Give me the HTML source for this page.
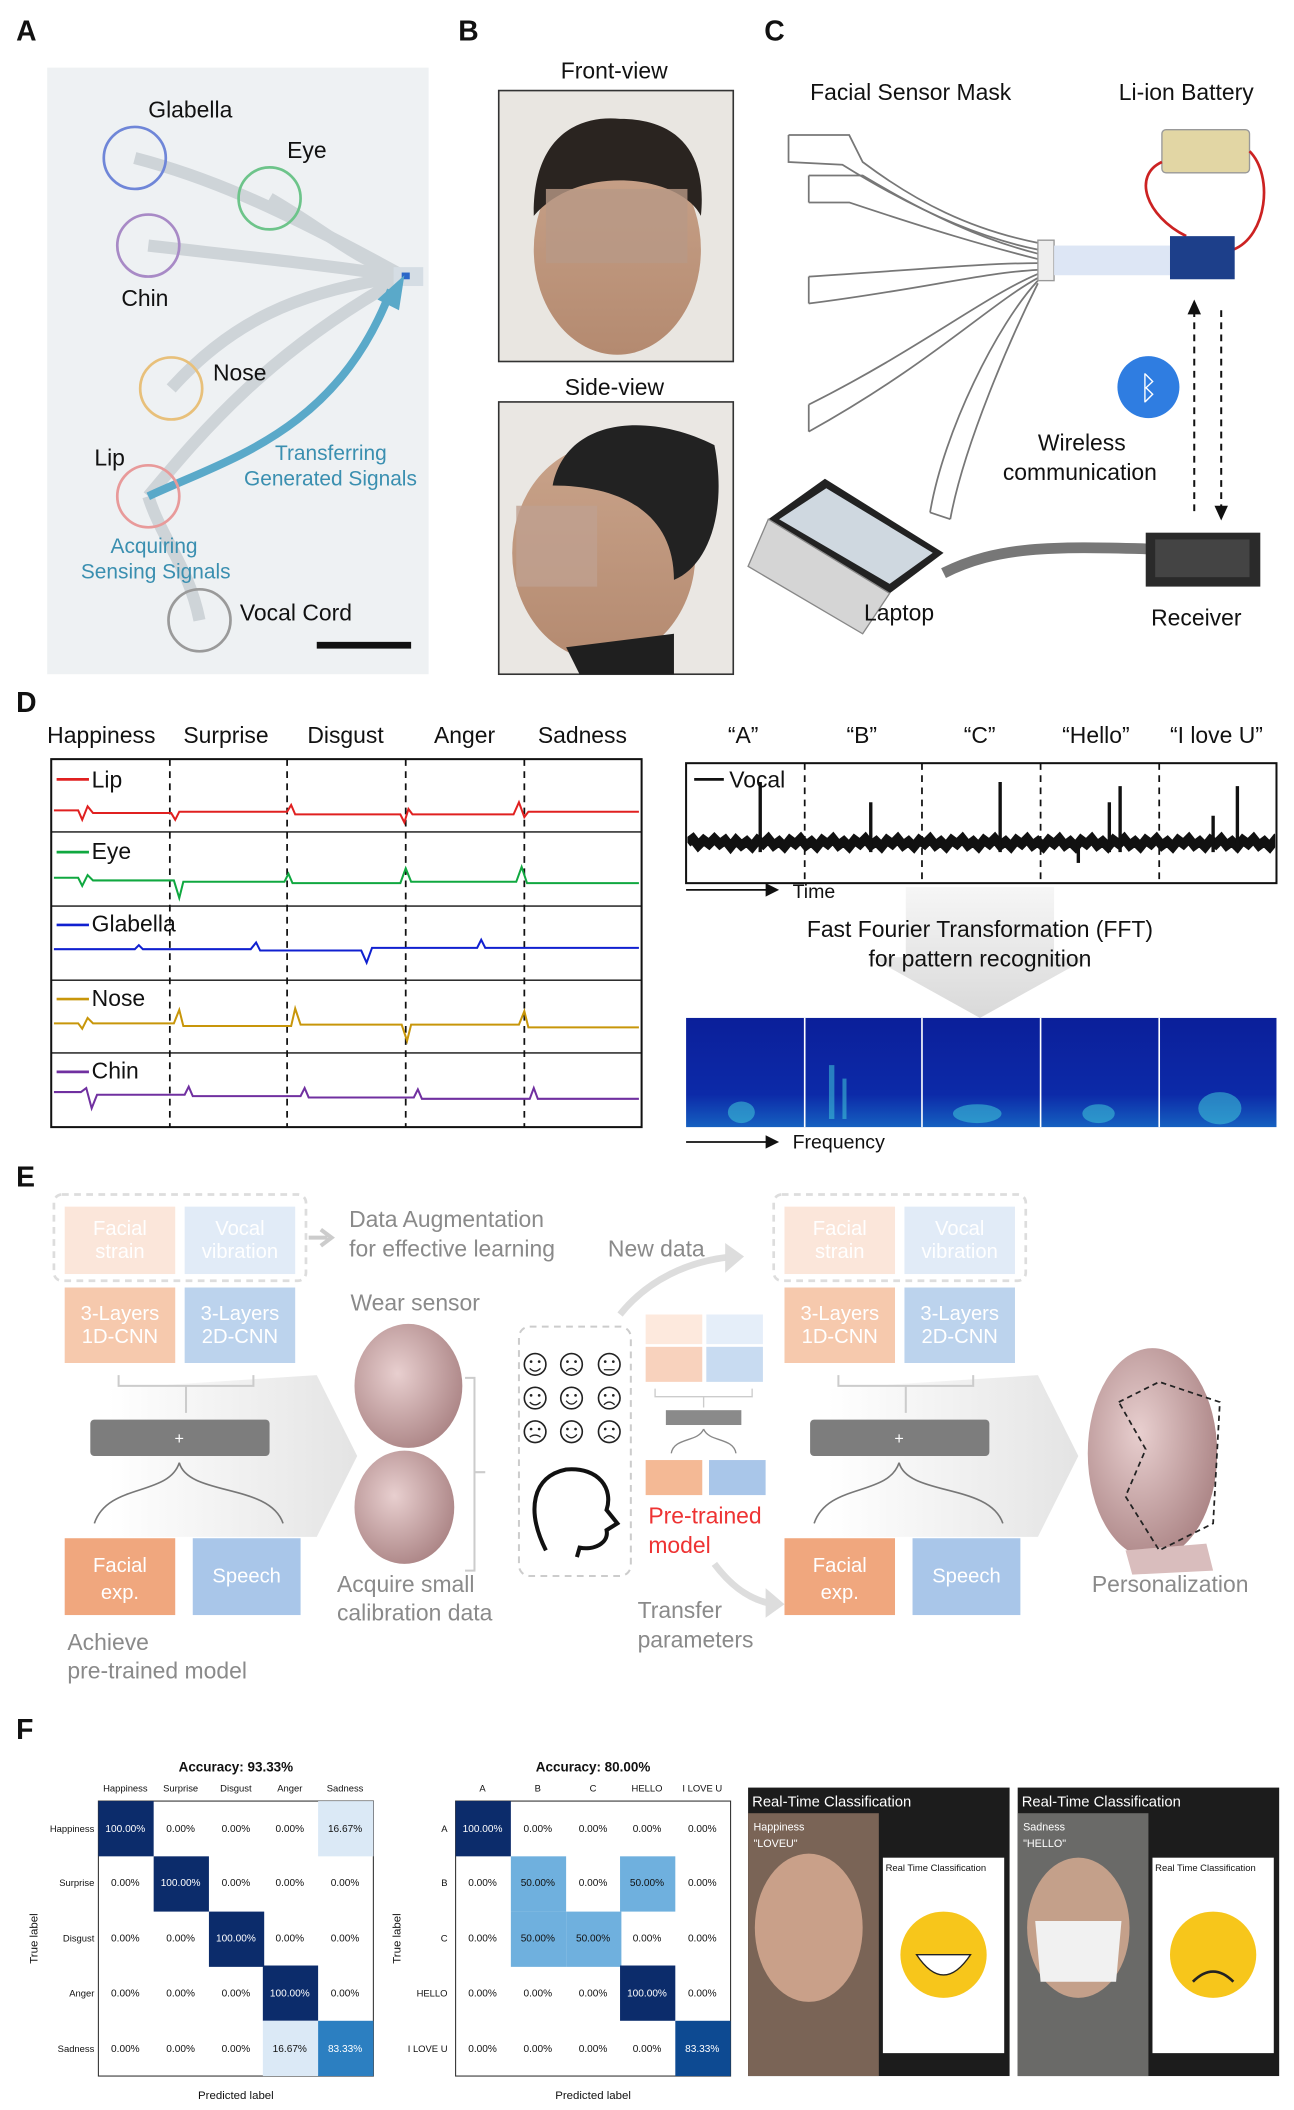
<!DOCTYPE html>
<html><head><meta charset="utf-8"><style>
html,body{margin:0;padding:0;background:#fff}
svg{display:block}
text{font-family:"Liberation Sans",Arial,sans-serif}
</style></head><body>
<svg width="1294" height="2110" viewBox="0 0 960 1565" xmlns="http://www.w3.org/2000/svg">
<defs>
<linearGradient id="skin" x1="0" y1="0" x2="0" y2="1"><stop offset="0" stop-color="#c9a38a"/><stop offset="1" stop-color="#b48a70"/></linearGradient>
<radialGradient id="head" cx="0.4" cy="0.4" r="0.7"><stop offset="0" stop-color="#e8cfcf"/><stop offset="1" stop-color="#a77f80"/></radialGradient>
<linearGradient id="gar" x1="0" y1="0" x2="1" y2="0"><stop offset="0" stop-color="#fff"/><stop offset="1" stop-color="#d8d8d8"/></linearGradient>
<linearGradient id="gdown" x1="0" y1="0" x2="0" y2="1"><stop offset="0" stop-color="#f4f4f4"/><stop offset="1" stop-color="#cfcfcf"/></linearGradient>
<linearGradient id="spec" x1="0" y1="0" x2="0" y2="1"><stop offset="0" stop-color="#0b1f9a"/><stop offset="0.7" stop-color="#0c2aa8"/><stop offset="1" stop-color="#1560c0"/></linearGradient>
<clipPath id="vc"><rect x="510" y="567" width="436" height="87"/></clipPath>
<g id="face"><circle r="8" fill="none" stroke="#222" stroke-width="1.2"/><circle cx="-3" cy="-2" r="1" fill="#222"/><circle cx="3" cy="-2" r="1" fill="#222"/></g>
</defs>
<g font-size="17" fill="#111">
<!-- Panel A -->
<text x="12" y="30" font-weight="bold" font-size="21">A</text>
<rect x="35" y="50" width="283" height="450" fill="#eef1f3"/>
<g fill="none" stroke="#c7cdd2" stroke-width="9" opacity="0.8">
<path d="M100,117 C150,130 200,150 300,205"/><path d="M200,147 C240,170 260,190 300,205"/>
<path d="M110,182 C180,190 230,195 300,205"/><path d="M127,288 C170,240 220,215 300,205"/>
<path d="M110,368 C150,320 200,260 300,205"/><path d="M148,460 C140,420 120,400 110,368"/>
</g>
<rect x="292" y="198" width="22" height="14" fill="#d5dde4"/><rect x="298" y="202" width="6" height="5" fill="#2a66c8"/>
<path d="M110,368 C170,340 250,320 290,215" fill="none" stroke="#5aa9c9" stroke-width="6"/>
<path d="M280,222 L300,204 L296,230 Z" fill="#5aa9c9"/>
<g fill="none" stroke-width="2">
<circle cx="100" cy="117" r="23" stroke="#6f86d8"/><circle cx="200" cy="147" r="23" stroke="#6dc48a"/>
<circle cx="110" cy="182" r="23" stroke="#a88ac6"/><circle cx="127" cy="288" r="23" stroke="#e8c07a"/>
<circle cx="110" cy="368" r="23" stroke="#e89a9a"/><circle cx="148" cy="460" r="23" stroke="#9a9a9a"/>
</g>
<text x="110" y="87">Glabella</text><text x="213" y="117">Eye</text><text x="90" y="227">Chin</text>
<text x="158" y="282">Nose</text><text x="70" y="345">Lip</text><text x="178" y="460">Vocal Cord</text>
<g fill="#3a8fb0" font-size="15.5"><text x="204" y="341">Transferring</text><text x="181" y="360">Generated Signals</text>
<text x="82" y="410">Acquiring</text><text x="60" y="429">Sensing Signals</text></g>
<rect x="235" y="476" width="70" height="5" fill="#111"/>

<!-- Panel B -->
<text x="340" y="30" font-weight="bold" font-size="21">B</text>
<text x="416" y="58">Front-view</text><text x="419" y="293">Side-view</text>
<rect x="370" y="67" width="174" height="201" fill="#e9e6e1" stroke="#333" stroke-width="1.2"/>
<ellipse cx="458" cy="185" rx="62" ry="78" fill="url(#skin)"/><path d="M396,160 C395,100 430,85 460,88 C500,88 525,110 520,160 C505,130 430,120 396,160 Z" fill="#2a2420"/>
<rect x="405" y="140" width="105" height="55" fill="#b89886" opacity="0.8"/>
<rect x="370" y="298" width="174" height="202" fill="#eae7e3" stroke="#333" stroke-width="1.2"/>
<ellipse cx="448" cy="410" rx="68" ry="80" fill="url(#skin)"/><path d="M410,360 C420,310 480,305 530,330 C540,380 525,420 500,430 C500,380 460,360 410,360 Z" fill="#222"/>
<rect x="383" y="375" width="60" height="60" fill="#bfa090" opacity="0.8"/>
<path d="M420,480 L430,500 L500,500 L500,470 Z" fill="#1f1f1f"/>

<!-- Panel C -->
<text x="567" y="30" font-weight="bold" font-size="21">C</text>
<text x="601" y="74">Facial Sensor Mask</text><text x="830" y="74">Li-ion Battery</text>
<g fill="none" stroke="#777" stroke-width="1.3">
<path d="M585,100 L630,100 L640,120 C680,150 720,170 770,180 M585,100 L585,120 L625,122 C670,150 720,175 770,185"/>
<path d="M600,130 L640,130 C690,160 730,178 770,188 M600,150 L630,150 C690,170 730,182 770,192"/>
<path d="M600,205 C680,200 730,195 770,195 M600,225 C680,215 730,202 770,200"/>
<path d="M600,300 C680,260 730,220 770,203 M600,320 C690,270 735,225 770,206"/>
<path d="M690,380 C700,320 740,240 770,208 M705,385 C715,330 750,250 770,210"/>
<path d="M600,130 L600,150 M600,205 L600,225 M600,300 L600,320 M690,380 L705,385"/>
</g>
<rect x="770" y="178" width="12" height="30" fill="#eee" stroke="#999"/>
<rect x="782" y="182" width="88" height="22" fill="#dde6f5"/>
<rect x="862" y="96" width="65" height="32" rx="3" fill="#e2d6a4" stroke="#999"/>
<path d="M862,120 C840,130 850,160 880,175 M927,112 C945,130 940,175 915,185" stroke="#c22" stroke-width="2" fill="none"/>
<rect x="868" y="175" width="48" height="32" fill="#1d3f8a"/>
<circle cx="852" cy="287" r="23" fill="#2f7de1"/><text x="852" y="296" text-anchor="middle" fill="#fff" font-size="24">ᛒ</text>
<g stroke="#111" stroke-width="1.5" stroke-dasharray="5,4"><line x1="886" y1="230" x2="886" y2="383"/><line x1="906" y1="230" x2="906" y2="378"/></g>
<path d="M881,233 L886,222 L891,233 Z M901,375 L906,386 L911,375 Z" fill="#111"/>
<text x="770" y="334">Wireless</text><text x="744" y="356">communication</text>
<path d="M700,425 C740,405 780,405 852,407" stroke="#777" stroke-width="8" fill="none"/>
<path d="M570,385 L612,355 L700,410 L660,440 Z" fill="#222"/><path d="M578,385 L613,362 L692,410 L660,433 Z" fill="#cfd8e0"/>
<path d="M570,385 L660,440 L640,470 L555,420 Z" fill="#d5d5d5" stroke="#888"/>
<text x="641" y="460">Laptop</text>
<rect x="850" y="395" width="85" height="40" fill="#2a2a2a"/><rect x="857" y="400" width="70" height="28" fill="#444"/>
<text x="854" y="464">Receiver</text>

<!-- Panel D -->
<text x="12" y="528" font-weight="bold" font-size="21">D</text>
<text x="35" y="551">Happiness</text><text x="136" y="551">Surprise</text><text x="228" y="551">Disgust</text><text x="322" y="551">Anger</text><text x="399" y="551">Sadness</text>
<rect x="38" y="563" width="438" height="273" fill="none" stroke="#111" stroke-width="1.5"/>
<g stroke="#111" stroke-width="1"><line x1="38" y1="617" x2="476" y2="617"/><line x1="38" y1="672" x2="476" y2="672"/><line x1="38" y1="727" x2="476" y2="727"/><line x1="38" y1="781" x2="476" y2="781"/></g>
<g stroke="#111" stroke-width="1.3" stroke-dasharray="5,4"><line x1="126" y1="563" x2="126" y2="836"/><line x1="213" y1="563" x2="213" y2="836"/><line x1="301" y1="563" x2="301" y2="836"/><line x1="389" y1="563" x2="389" y2="836"/></g>
<g fill="none" stroke-width="1.5">
<path stroke="#e02020" d="M40,601 h18 l3,7 l4,-10 l4,5 h58 l3,5 l3,-6 h80 l3,-5 l3,7 h78 l3,6 l3,-10 l3,4 h75 l4,-9 l4,11 l3,-4 H474"/>
<path stroke="#10a840" d="M40,651 h18 l3,6 l4,-8 l4,4 h60 l4,13 l3,-12 h75 l3,-6 l3,7 h80 l4,-11 l4,10 h78 l4,-11 l4,12 H474"/>
<path stroke="#1020d0" d="M40,704 h60 l3,-3 l3,3 h80 l4,-5 l3,6 h75 l4,9 l4,-11 h78 l3,-6 l3,6 H474"/>
<path stroke="#c8960a" d="M40,759 h18 l3,4 l4,-8 l4,4 h60 l4,-10 l3,12 h80 l3,-13 l4,12 h75 l4,12 l3,-12 h80 l4,-10 l3,12 H474"/>
<path stroke="#7030a0" d="M40,810 h20 l4,-3 l4,15 l4,-10 h65 l3,-6 l3,7 h80 l3,-6 l3,7 h78 l3,-6 l3,7 h80 l3,-8 l3,8 H474"/>
</g>
<text x="68" y="584" fill="#111">Lip</text><line x1="42" y1="578" x2="66" y2="578" stroke="#e02020" stroke-width="2"/>
<text x="68" y="637">Eye</text><line x1="42" y1="632" x2="66" y2="632" stroke="#10a840" stroke-width="2"/>
<text x="68" y="691">Glabella</text><line x1="42" y1="686" x2="66" y2="686" stroke="#1020d0" stroke-width="2"/>
<text x="68" y="746">Nose</text><line x1="42" y1="741" x2="66" y2="741" stroke="#c8960a" stroke-width="2"/>
<text x="68" y="800">Chin</text><line x1="42" y1="795" x2="66" y2="795" stroke="#7030a0" stroke-width="2"/>
<text x="540" y="551">“A”</text><text x="628" y="551">“B”</text><text x="715" y="551">“C”</text><text x="788" y="551">“Hello”</text><text x="868" y="551">“I love U”</text>
<rect x="509" y="566" width="438" height="89" fill="none" stroke="#111" stroke-width="1.5"/>
<g stroke="#111" stroke-width="1.3" stroke-dasharray="5,4"><line x1="597" y1="566" x2="597" y2="655"/><line x1="684" y1="566" x2="684" y2="655"/><line x1="772" y1="566" x2="772" y2="655"/><line x1="860" y1="566" x2="860" y2="655"/></g>
<g clip-path="url(#vc)">
<path d="M510,625 l4,-3 l4,5 l4,-4 l4,3 l4,-4 l4,4 l4,-3 l4,5 l4,-5 l4,4 l4,-3 l4,4 l4,-5 l4,3 l4,-4 l4,5 l4,-3 l4,4 l4,-5 l4,3 l4,-4 l4,5 l4,-3 l4,4 l4,-5 l4,3 l4,-4 l4,5 l4,-3 l4,4 l4,-5 l4,3 l4,-4 l4,5 l4,-3 l4,4 l4,-5 l4,3 l4,-4 l4,5 l4,-3 l4,4 l4,-5 l4,3 l4,-4 l4,5 l4,-3 l4,4 l4,-5 l4,3 l4,-4 l4,5 l4,-3 l4,4 l4,-5 l4,3 l4,-4 l4,5 l4,-3 l4,4 l4,-5 l4,3 l4,-4 l4,5 l4,-3 l4,4 l4,-5 l4,3 l4,-4 l4,5 l4,-3 l4,4 l4,-5 l4,3 l4,-4 l4,5 l4,-3 l4,4 l4,-5 l4,3 l4,-4 l4,5 l4,-3 l4,4 l4,-5 l4,3 l4,-4 l4,5 l4,-3 l4,4 l4,-5 l4,3 l4,-4 l4,5 l4,-3 l4,4 l4,-5 l4,3 l4,-4 l4,5 l4,-3 l4,4 l4,-5 l4,3 l4,-4 l4,5 l4,-3 l4,4 l4,-5 l4,3 l4,-4 l4,5 l4,-3 l4,4 l4,-5 l4,3 l4,-4" fill="none" stroke="#111" stroke-width="7"/>
</g>
<g stroke="#111" stroke-width="2.5"><line x1="564" y1="580" x2="564" y2="632"/><line x1="646" y1="595" x2="646" y2="632"/><line x1="742" y1="580" x2="742" y2="632"/><line x1="823" y1="595" x2="823" y2="632"/><line x1="831" y1="583" x2="831" y2="632"/><line x1="900" y1="605" x2="900" y2="632"/><line x1="918" y1="583" x2="918" y2="632"/><line x1="800" y1="625" x2="800" y2="640"/></g>
<line x1="515" y1="578" x2="537" y2="578" stroke="#111" stroke-width="2"/><text x="541" y="584">Vocal</text>
<line x1="509" y1="660" x2="570" y2="660" stroke="#111" stroke-width="1.3"/><path d="M568,655 L578,660 L568,665 Z" fill="#111"/>
<text x="588" y="666" font-size="14.5">Time</text>
<path d="M672,658 L782,658 L782,710 L808,710 L727,755 L646,710 L672,710 Z" fill="url(#gdown)" opacity="0.8"/>
<text x="727" y="695" text-anchor="middle">Fast Fourier Transformation (FFT)</text>
<text x="727" y="717" text-anchor="middle">for pattern recognition</text>
<rect x="509" y="755" width="438" height="81" fill="url(#spec)"/>
<g fill="#40c8d8" opacity="0.55"><ellipse cx="550" cy="825" rx="10" ry="8"/><rect x="615" y="790" width="4" height="40"/><rect x="625" y="800" width="3" height="30"/><ellipse cx="725" cy="826" rx="18" ry="7"/><ellipse cx="815" cy="826" rx="12" ry="7"/><ellipse cx="905" cy="822" rx="16" ry="12"/></g>
<g stroke="#fff" stroke-width="1.2"><line x1="597" y1="755" x2="597" y2="836"/><line x1="684" y1="755" x2="684" y2="836"/><line x1="772" y1="755" x2="772" y2="836"/><line x1="860" y1="755" x2="860" y2="836"/></g>
<line x1="509" y1="847" x2="570" y2="847" stroke="#111" stroke-width="1.3"/><path d="M568,842 L578,847 L568,852 Z" fill="#111"/>
<text x="588" y="852" font-size="14.5">Frequency</text>

<!-- Panel E -->
<text x="12" y="880" font-weight="bold" font-size="21">E</text>
<path d="M80,1030 L235,1020 L265,1080 L235,1140 L80,1140 Z" fill="url(#gar)" opacity="0.7"/>
<path d="M614,1030 L770,1020 L800,1080 L770,1140 L614,1140 Z" fill="url(#gar)" opacity="0.7"/>
<g font-size="15" fill="#fff" text-anchor="middle">
<rect x="40" y="886" width="187" height="64" rx="6" fill="none" stroke="#ddd" stroke-width="2" stroke-dasharray="5,4"/>
<rect x="48" y="895" width="82" height="50" fill="#fbe6da"/><rect x="137" y="895" width="82" height="50" fill="#e1ebf7"/>
<text x="89" y="916">Facial</text><text x="89" y="933">strain</text><text x="178" y="916">Vocal</text><text x="178" y="933">vibration</text>
<rect x="48" y="955" width="82" height="56" fill="#f6c9ad"/><rect x="137" y="955" width="82" height="56" fill="#bcd3ed"/>
<text x="89" y="979">3-Layers</text><text x="89" y="996">1D-CNN</text><text x="178" y="979">3-Layers</text><text x="178" y="996">2D-CNN</text>
<rect x="574" y="886" width="187" height="64" rx="6" fill="none" stroke="#ddd" stroke-width="2" stroke-dasharray="5,4"/>
<rect x="582" y="895" width="82" height="50" fill="#fbe6da"/><rect x="671" y="895" width="82" height="50" fill="#e1ebf7"/>
<text x="623" y="916">Facial</text><text x="623" y="933">strain</text><text x="712" y="916">Vocal</text><text x="712" y="933">vibration</text>
<rect x="582" y="955" width="82" height="56" fill="#f6c9ad"/><rect x="671" y="955" width="82" height="56" fill="#bcd3ed"/>
<text x="623" y="979">3-Layers</text><text x="623" y="996">1D-CNN</text><text x="712" y="979">3-Layers</text><text x="712" y="996">2D-CNN</text>
</g>
<g fill="none" stroke="#ccc" stroke-width="1.5"><path d="M88,1020 v8 h100 v-8 M138,1028 v20"/><path d="M622,1020 v8 h100 v-8 M672,1028 v20"/></g>
<rect x="67" y="1053" width="133" height="27" rx="3" fill="#7d7d7d"/><text x="133" y="1071" fill="#fff" font-size="12" text-anchor="middle">+</text>
<rect x="601" y="1053" width="133" height="27" rx="3" fill="#7d7d7d"/><text x="667" y="1071" fill="#fff" font-size="12" text-anchor="middle">+</text>
<g fill="none" stroke="#777" stroke-width="1.2"><path d="M133,1085 C125,1110 80,1100 70,1130 M133,1085 C140,1110 200,1100 210,1130"/><path d="M667,1085 C659,1110 614,1100 604,1130 M667,1085 C674,1110 734,1100 744,1130"/></g>
<g font-size="15" fill="#fff" text-anchor="middle">
<rect x="48" y="1141" width="82" height="57" fill="#f0a77e"/><rect x="143" y="1141" width="80" height="57" fill="#a9c6e9"/>
<text x="89" y="1166">Facial</text><text x="89" y="1186">exp.</text><text x="183" y="1174">Speech</text>
<rect x="582" y="1141" width="82" height="57" fill="#f0a77e"/><rect x="677" y="1141" width="80" height="57" fill="#a9c6e9"/>
<text x="623" y="1166">Facial</text><text x="623" y="1186">exp.</text><text x="717" y="1174">Speech</text>
</g>
<ellipse cx="855" cy="1078" rx="48" ry="78" fill="url(#head)"/><path d="M835,1150 L895,1145 L900,1165 L840,1168 Z" fill="#d9bdbd"/>
<path d="M830,1040 L860,1025 L905,1040 L900,1130 L860,1150 L835,1110 L850,1075 Z" fill="none" stroke="#222" stroke-width="1.3" stroke-dasharray="4,3"/>
<g fill="#8a8a8a" font-size="17">
<text x="259" y="910">Data Augmentation</text><text x="259" y="932">for effective learning</text>
<text x="451" y="932">New data</text><text x="260" y="972">Wear sensor</text>
<text x="250" y="1181">Acquire small</text><text x="250" y="1202">calibration data</text>
<text x="50" y="1224">Achieve</text><text x="50" y="1245">pre-trained model</text>
<text x="473" y="1200">Transfer</text><text x="473" y="1222">parameters</text>
<text x="810" y="1181">Personalization</text>
</g>
<text x="481" y="1130" fill="#e33" font-size="17">Pre-trained</text><text x="481" y="1152" fill="#e33" font-size="17">model</text>
<path d="M229,918 L243,918 M238,912 L246,918 L238,924" stroke="#ccc" stroke-width="3" fill="none"/>
<path d="M460,975 C480,950 510,935 545,932" stroke="#ddd" stroke-width="5" fill="none"/><path d="M538,922 L552,932 L538,944 Z" fill="#ddd"/>
<path d="M530,1160 C545,1180 560,1188 575,1190" stroke="#ddd" stroke-width="5" fill="none"/><path d="M568,1178 L582,1190 L568,1200 Z" fill="#ddd"/>
<ellipse cx="303" cy="1028" rx="40" ry="46" fill="url(#head)"/>
<ellipse cx="300" cy="1118" rx="37" ry="42" fill="url(#head)"/>
<path d="M345,1022 L352,1022 L352,1165 L345,1165 M352,1092 L360,1092" stroke="#ccc" fill="none" stroke-width="1.5"/>
<rect x="385" y="984" width="83" height="185" rx="8" fill="none" stroke="#ccc" stroke-width="1.5" stroke-dasharray="5,4"/>
<use href="#face" x="397" y="1012"/><use href="#face" x="424" y="1012"/><use href="#face" x="452" y="1012"/>
<use href="#face" x="397" y="1037"/><use href="#face" x="424" y="1037"/><use href="#face" x="452" y="1037"/>
<use href="#face" x="397" y="1062"/><use href="#face" x="424" y="1062"/><use href="#face" x="452" y="1062"/>
<g fill="none" stroke="#222" stroke-width="1"><path d="M393,1015 q4,4 8,0 M420,1017 q4,-4 8,0 M448,1016 h8 M393,1040 q4,4 8,0 M420,1039 q4,5 8,0 M448,1042 q4,-4 8,0 M393,1066 q4,-3 8,0 M420,1064 q4,5 8,0 M448,1067 q4,-4 8,0"/></g>
<path d="M405,1150 C390,1120 395,1095 420,1090 C445,1088 455,1105 450,1120 L458,1130 L450,1135 C452,1145 440,1150 430,1148 L428,1155" fill="none" stroke="#111" stroke-width="3"/>
<g><rect x="479" y="975" width="42" height="22" fill="#fde9dd"/><rect x="524" y="975" width="42" height="22" fill="#e5eef9"/>
<rect x="479" y="999" width="42" height="26" fill="#f8d2bd"/><rect x="524" y="999" width="42" height="26" fill="#c8dbf1"/>
<path d="M486,1030 v6 h72 v-6 M522,1036 v8" stroke="#ccc" fill="none"/>
<rect x="494" y="1046" width="56" height="11" fill="#8a8a8a"/>
<path d="M522,1060 C518,1070 500,1066 498,1078 M522,1060 C526,1070 544,1066 546,1078" stroke="#888" fill="none"/>
<rect x="479" y="1083" width="42" height="26" fill="#f4b995"/><rect x="526" y="1083" width="42" height="26" fill="#a9c6e9"/></g>

<!-- Panel F -->
<text x="12" y="1290" font-weight="bold" font-size="21">F</text>
<g font-size="7" fill="#111">
<text x="175" y="1314" font-size="10" font-weight="bold" text-anchor="middle">Accuracy: 93.33%</text>
<text x="440" y="1314" font-size="10" font-weight="bold" text-anchor="middle">Accuracy: 80.00%</text>
<g text-anchor="middle"><text x="93" y="1329">Happiness</text><text x="134" y="1329">Surprise</text><text x="175" y="1329">Disgust</text><text x="215" y="1329">Anger</text><text x="256" y="1329">Sadness</text>
<text x="358" y="1329">A</text><text x="399" y="1329">B</text><text x="440" y="1329">C</text><text x="480" y="1329">HELLO</text><text x="521" y="1329">I LOVE U</text></g>
<g text-anchor="end"><text x="70" y="1359">Happiness</text><text x="70" y="1399">Surprise</text><text x="70" y="1440">Disgust</text><text x="70" y="1481">Anger</text><text x="70" y="1522">Sadness</text>
<text x="332" y="1359">A</text><text x="332" y="1399">B</text><text x="332" y="1440">C</text><text x="332" y="1481">HELLO</text><text x="332" y="1522">I LOVE U</text></g>
<text x="175" y="1557" font-size="8.5" text-anchor="middle">Predicted label</text><text x="440" y="1557" font-size="8.5" text-anchor="middle">Predicted label</text>
<text transform="translate(28,1438) rotate(-90)" font-size="8.5" text-anchor="middle">True label</text>
<text transform="translate(297,1438) rotate(-90)" font-size="8.5" text-anchor="middle">True label</text>
</g>
<rect x="73" y="1336" width="204" height="204" fill="#fff" stroke="#333" stroke-width="0.8"/>
<rect x="338" y="1336" width="204" height="204" fill="#fff" stroke="#333" stroke-width="0.8"/>
<g>
<rect x="73" y="1336" width="41" height="41" fill="#0c2c6b"/><rect x="114" y="1377" width="41" height="41" fill="#0c2c6b"/><rect x="155" y="1418" width="41" height="41" fill="#0c2c6b"/><rect x="195" y="1458" width="41" height="41" fill="#0c2c6b"/>
<rect x="236" y="1336" width="41" height="41" fill="#dbe9f6"/><rect x="195" y="1499" width="41" height="41" fill="#dbe9f6"/><rect x="236" y="1499" width="41" height="41" fill="#2c7fc1"/>
<rect x="338" y="1336" width="41" height="41" fill="#0c2c6b"/><rect x="379" y="1377" width="41" height="41" fill="#6fb0de"/><rect x="460" y="1377" width="41" height="41" fill="#6fb0de"/>
<rect x="379" y="1418" width="41" height="41" fill="#6fb0de"/><rect x="420" y="1418" width="41" height="41" fill="#6fb0de"/><rect x="460" y="1458" width="41" height="41" fill="#0c2c6b"/><rect x="501" y="1499" width="41" height="41" fill="#0d4a92"/>
</g>
<g font-size="7.5" text-anchor="middle" fill="#111">
<text x="93" y="1359" fill="#fff">100.00%</text><text x="134" y="1359">0.00%</text><text x="175" y="1359">0.00%</text><text x="215" y="1359">0.00%</text><text x="256" y="1359">16.67%</text>
<text x="93" y="1399">0.00%</text><text x="134" y="1399" fill="#fff">100.00%</text><text x="175" y="1399">0.00%</text><text x="215" y="1399">0.00%</text><text x="256" y="1399">0.00%</text>
<text x="93" y="1440">0.00%</text><text x="134" y="1440">0.00%</text><text x="175" y="1440" fill="#fff">100.00%</text><text x="215" y="1440">0.00%</text><text x="256" y="1440">0.00%</text>
<text x="93" y="1481">0.00%</text><text x="134" y="1481">0.00%</text><text x="175" y="1481">0.00%</text><text x="215" y="1481" fill="#fff">100.00%</text><text x="256" y="1481">0.00%</text>
<text x="93" y="1522">0.00%</text><text x="134" y="1522">0.00%</text><text x="175" y="1522">0.00%</text><text x="215" y="1522">16.67%</text><text x="256" y="1522" fill="#fff">83.33%</text>
<text x="358" y="1359" fill="#fff">100.00%</text><text x="399" y="1359">0.00%</text><text x="440" y="1359">0.00%</text><text x="480" y="1359">0.00%</text><text x="521" y="1359">0.00%</text>
<text x="358" y="1399">0.00%</text><text x="399" y="1399">50.00%</text><text x="440" y="1399">0.00%</text><text x="480" y="1399">50.00%</text><text x="521" y="1399">0.00%</text>
<text x="358" y="1440">0.00%</text><text x="399" y="1440">50.00%</text><text x="440" y="1440">50.00%</text><text x="480" y="1440">0.00%</text><text x="521" y="1440">0.00%</text>
<text x="358" y="1481">0.00%</text><text x="399" y="1481">0.00%</text><text x="440" y="1481">0.00%</text><text x="480" y="1481" fill="#fff">100.00%</text><text x="521" y="1481">0.00%</text>
<text x="358" y="1522">0.00%</text><text x="399" y="1522">0.00%</text><text x="440" y="1522">0.00%</text><text x="480" y="1522">0.00%</text><text x="521" y="1522" fill="#fff">83.33%</text>
</g>
<!-- photos -->
<rect x="555" y="1326" width="194" height="214" fill="#1c1c1c"/>
<rect x="555" y="1345" width="97" height="195" fill="#7a6456"/><ellipse cx="600" cy="1430" rx="40" ry="55" fill="#c9a089"/>
<rect x="655" y="1378" width="90" height="145" fill="#fff"/><circle cx="700" cy="1450" r="32" fill="#f7c61b"/><path d="M680,1450 Q700,1480 720,1450 Z" fill="#fff" stroke="#222"/>
<text x="558" y="1340" fill="#fff" font-size="11">Real-Time Classification</text>
<text x="559" y="1358" fill="#fff" font-size="8">Happiness</text><text x="559" y="1370" fill="#fff" font-size="8">"LOVEU"</text>
<text x="657" y="1388" font-size="7">Real Time Classification</text>
<rect x="755" y="1326" width="194" height="214" fill="#1c1c1c"/>
<rect x="755" y="1345" width="97" height="195" fill="#6a6a68"/><ellipse cx="800" cy="1430" rx="38" ry="52" fill="#c4a08a"/><path d="M768,1425 L832,1425 L828,1470 L772,1470 Z" fill="#f1f1f1"/>
<rect x="855" y="1378" width="90" height="145" fill="#fff"/><circle cx="900" cy="1450" r="32" fill="#f7c61b"/><path d="M885,1470 Q900,1455 915,1470" fill="none" stroke="#222" stroke-width="2"/>
<text x="758" y="1340" fill="#fff" font-size="11">Real-Time Classification</text>
<text x="759" y="1358" fill="#fff" font-size="8">Sadness</text><text x="759" y="1370" fill="#fff" font-size="8">"HELLO"</text>
<text x="857" y="1388" font-size="7">Real Time Classification</text>
</g>
</svg>
</body></html>
